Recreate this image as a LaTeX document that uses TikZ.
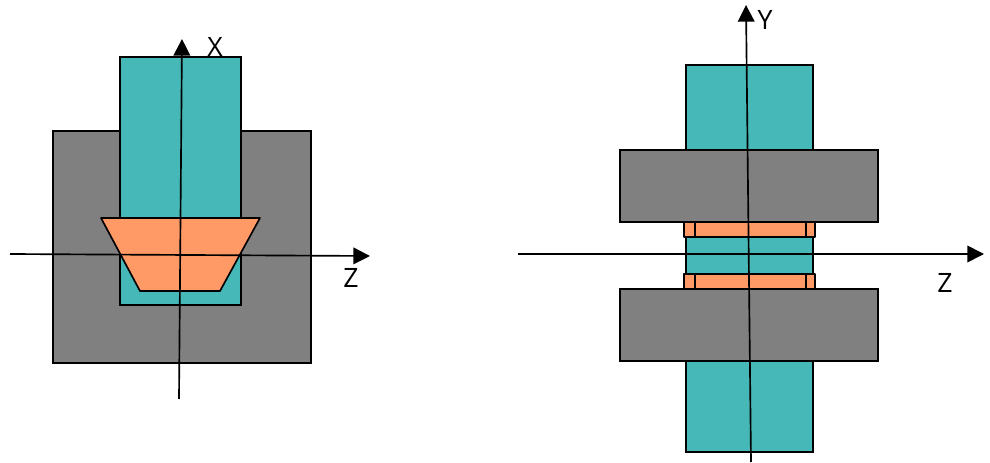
\documentclass[tikz,border=0pt]{standalone}
\usepackage{fontspec}
\setmainfont{Open Sans}
\usetikzlibrary{arrows.meta}
\definecolor{coretl}{HTML}{46B8B8}
\definecolor{yokegr}{HTML}{808080}
\definecolor{coilor}{HTML}{FF9966}
\tikzset{
    core/.style={draw,fill=coretl,line width=1.25pt},
    yoke/.style={draw,fill=yokegr,line width=1.25pt},
    coil/.style={draw,fill=coilor,line width=1.25pt,line join=round},
    axis/.style={-{Triangle[length=12.5pt,width=12.5pt]},line width=1.25pt},
    axislabel/.style={inner sep=0,font=\fontsize{20}{20}\selectfont}
}
\begin{document}
\begin{tikzpicture}[x=0.75pt,y=-0.75pt]
    \useasboundingbox (0,0) rectangle (990,463) ;

    % left view
    \draw[yoke] (53,131) rectangle (311,363) ;
    \draw[core] (120,57) rectangle (241,305) ;
    \draw[coil] (101,218) -- (260,218) -- (220,291) -- (140,291) -- cycle ;

    \coordinate (z1_start) at (10,254) ;
    \coordinate (z1_end) at (370,256) ;
    \coordinate (x_start) at (179,399) ;
    \coordinate (x_end) at (182,39) ;
    \draw[axis] (z1_start) -- (z1_end) ;
    \draw[axis] (x_start) -- (x_end) ;
    \node[axislabel] (x_label) at (215,47) {X} ;
    \node[axislabel] (z1_label) at (351,278) {Z} ;

    % right view
    \draw[core] (686,65) rectangle (813,150) ;
    \draw[core] (686,361) rectangle (813,452) ;
    \draw[core] (686,237) rectangle (813,274) ;
    \draw[yoke] (620,150) rectangle (878,222) ;
    \draw[yoke] (620,289) rectangle (878,361) ;
    \draw[coil] (684,222) rectangle (815,237) ;
    \draw[coil] (684,274) rectangle (815,289) ;
    \draw[line width=1.25pt] (695,222) -- (695,237) ;
    \draw[line width=1.25pt] (806,222) -- (806,237) ;
    \draw[line width=1.25pt] (695,274) -- (695,289) ;
    \draw[line width=1.25pt] (806,274) -- (806,289) ;

    \coordinate (z2_start) at (518,254) ;
    \coordinate (z2_end) at (984,254) ;
    \coordinate (y_start) at (751,462) ;
    \coordinate (y_end) at (746,5) ;
    \draw[axis] (z2_start) -- (z2_end) ;
    \draw[axis] (y_start) -- (y_end) ;
    \node[axislabel] (y_label) at (765,20) {Y} ;
    \node[axislabel] (z2_label) at (945,283) {Z} ;
\end{tikzpicture}
\end{document}
